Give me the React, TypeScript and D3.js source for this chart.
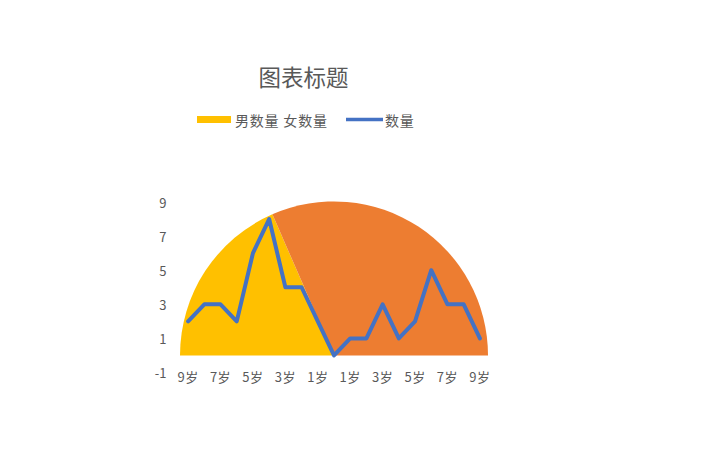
import * as d3 from "d3";

const categories = [
  "9岁", "8岁", "7岁", "6岁", "5岁", "4岁", "3岁", "2岁", "1岁", "0岁",
  "1岁", "2岁", "3岁", "4岁", "5岁", "6岁", "7岁", "8岁", "9岁",
];
const counts = [2, 3, 3, 2, 6, 8, 4, 4, 2, 0, 1, 1, 3, 1, 2, 5, 3, 3, 1];
const yTicks = [-1, 1, 3, 5, 7, 9];
const pieNames = ["男数量", "女数量"];
const pieValues = [38, 65];
const pieColors = ["#FFC000", "#ED7D31"];
const lineColor = "#4472C4";
const textColor = "#595959";
const font = "'Noto Sans CJK SC', 'Noto Sans', sans-serif";

export default function App() {
  const width = 720;
  const height = 450;

  const x = d3.scalePoint<number>()
    .domain(d3.range(categories.length))
    .range([180, 488])
    .padding(0.5);
  const y = d3.scaleLinear().domain([-1, 9]).range([372.5, 202]);

  const line = d3.line<number>()
    .x((_, i) => x(i)!)
    .y(d => y(d));

  // half pie sitting on the zero line
  const cx = x(9)!;
  const cy = y(0);
  const r = 154;
  const arcs = d3.pie<number>()
    .sort(null)
    .startAngle(-Math.PI / 2)
    .endAngle(Math.PI / 2)(pieValues);
  const arc = d3.arc<d3.PieArcDatum<number>>().innerRadius(0).outerRadius(r);

  return (
    <svg
      width={width}
      height={height}
      style={{ position: "absolute", left: 0, top: 0, background: "#fff" }}
      fontFamily={font}
    >
      <text x={303.5} y={76} textAnchor="middle" dominantBaseline="central"
        fontSize={22.5} fill={textColor}>图表标题</text>

      {/* legend */}
      <rect x={197} y={116} width={34} height={7} fill={pieColors[0]} />
      <text x={235} y={119.5} dominantBaseline="central" fontSize={14}
        letterSpacing={0.8} fill={textColor}>
        {pieNames.join(" ")}
      </text>
      <line x1={346} x2={383} y1={119.5} y2={119.5} stroke={lineColor} strokeWidth={3.5} />
      <text x={385} y={119.5} dominantBaseline="central" fontSize={14}
        letterSpacing={0.8} fill={textColor}>数量</text>

      <g transform={`translate(${cx},${cy})`}>
        {arcs.map((a, i) => (
          <path key={i} d={arc(a)!} fill={pieColors[i]} />
        ))}
      </g>

      {yTicks.map(t => (
        <text key={t} x={166.5} y={y(t)} textAnchor="end" dominantBaseline="central"
          fontSize={13} fill={textColor}>{t}</text>
      ))}

      {categories.map((c, i) =>
        i % 2 === 0 ? (
          <text key={i} x={x(i)} y={376.5} textAnchor="middle" dominantBaseline="central"
            fontSize={13} letterSpacing={0.5} fill={textColor}>{c}</text>
        ) : null
      )}

      <path d={line(counts)!} fill="none" stroke={lineColor} strokeWidth={4}
        strokeLinejoin="round" strokeLinecap="round" />
    </svg>
  );
}
